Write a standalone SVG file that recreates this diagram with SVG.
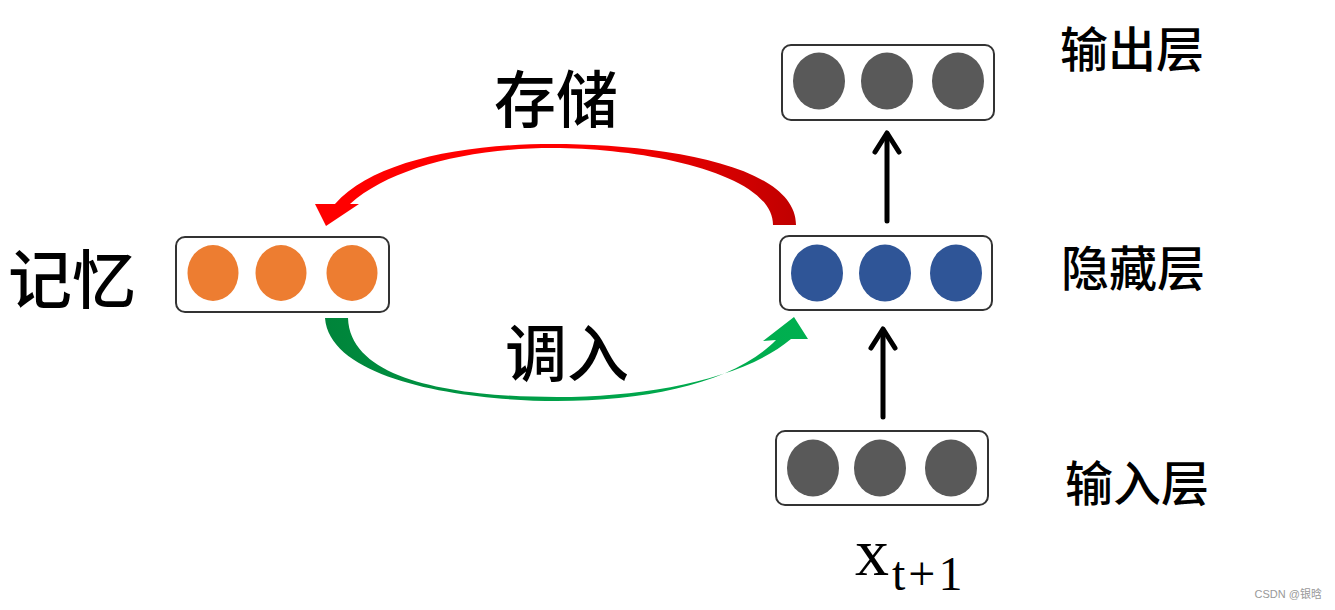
<svg xmlns="http://www.w3.org/2000/svg" width="1335" height="610" viewBox="0 0 1335 610">
<defs>
<style>
.box{fill:#fff;stroke:#333;stroke-width:2}
.org{fill:#ED7D31}
.blu{fill:#2F5597}
.gry{fill:#595959}
.cjk{font-family:"Noto Sans CJK SC","Noto Sans",sans-serif;font-weight:500;fill:#000;text-anchor:middle}
.arr{stroke:#000;stroke-width:5;fill:none;stroke-linecap:round;stroke-linejoin:round}
</style>
<linearGradient id="gred" x1="330" y1="0" x2="796" y2="0" gradientUnits="userSpaceOnUse">
<stop offset="0" stop-color="#FF0000"/><stop offset="0.55" stop-color="#FF0000"/><stop offset="1" stop-color="#C00000"/>
</linearGradient>
<linearGradient id="ggrn" x1="325" y1="0" x2="808" y2="0" gradientUnits="userSpaceOnUse">
<stop offset="0" stop-color="#00843A"/><stop offset="0.5" stop-color="#00A24A"/><stop offset="1" stop-color="#00B050"/>
</linearGradient>
</defs>
<rect width="1335" height="610" fill="#fff"/>
<g id="memory">
<rect class="box" x="176" y="237" width="213" height="75" rx="9"/>
<ellipse class="org" cx="213" cy="273" rx="25.5" ry="28"/>
<ellipse class="org" cx="281" cy="273" rx="25.5" ry="28"/>
<ellipse class="org" cx="352" cy="273" rx="25.5" ry="28"/>
</g>
<g id="output">
<rect class="box" x="782" y="45" width="212" height="75" rx="9"/>
<ellipse class="gry" cx="819" cy="81" rx="26" ry="28.5"/>
<ellipse class="gry" cx="887" cy="81" rx="26" ry="28.5"/>
<ellipse class="gry" cx="958" cy="81" rx="26" ry="28.5"/>
</g>
<g id="hidden">
<rect class="box" x="780" y="236" width="212" height="74" rx="9"/>
<ellipse class="blu" cx="817" cy="273" rx="26" ry="28.5"/>
<ellipse class="blu" cx="885" cy="273" rx="26" ry="28.5"/>
<ellipse class="blu" cx="956" cy="273" rx="26" ry="28.5"/>
</g>
<g id="input">
<rect class="box" x="776" y="431" width="212" height="74" rx="9"/>
<ellipse class="gry" cx="813" cy="468" rx="26" ry="28.5"/>
<ellipse class="gry" cx="880" cy="468" rx="26" ry="28.5"/>
<ellipse class="gry" cx="951" cy="468" rx="26" ry="28.5"/>
</g>
<g id="connectors">
<path fill="url(#gred)" d="M796,225 C796,162 650,144 553,144 C460,144 372,162 335,204 L315,204 L326,226 L359,204 L350,204 C390,168 470,148 553,148 C640,148 773,172 773,225 Z"/>
<path fill="url(#ggrn)" d="M325,318 C330,382 470,401 557,401 C650,401 735,382 776,340 L763,341 L794,317 L808,339 L791,339 C745,378 650,397 557,397 C460,397 350,382 348,318 Z"/>
<line class="arr" x1="887" y1="221" x2="887" y2="134"/>
<polyline class="arr" points="875,152 887,133 899,152"/>
<line class="arr" x1="883" y1="417" x2="883" y2="330"/>
<polyline class="arr" points="871,348 883,329 895,348"/>
</g>
<g id="labels">
<text class="cjk" x="556" y="123" font-size="62">存储</text>
<text class="cjk" x="567" y="377" font-size="62">调入</text>
<text class="cjk" x="72" y="303" font-size="64">记忆</text>
<text class="cjk" x="1132" y="67" font-size="48">输出层</text>
<text class="cjk" x="1133" y="286" font-size="48">隐藏层</text>
<text class="cjk" x="1137" y="501" font-size="48">输入层</text>
<text x="855" y="575" font-family="Liberation Serif,serif" font-size="68">x<tspan font-size="48" dy="15" dx="3" letter-spacing="3">t+1</tspan></text>
<text x="1322" y="598" font-family="Liberation Sans,'Noto Sans CJK SC',sans-serif" font-size="11" fill="#999" text-anchor="end">CSDN @银晗</text>
</g>
</svg>
